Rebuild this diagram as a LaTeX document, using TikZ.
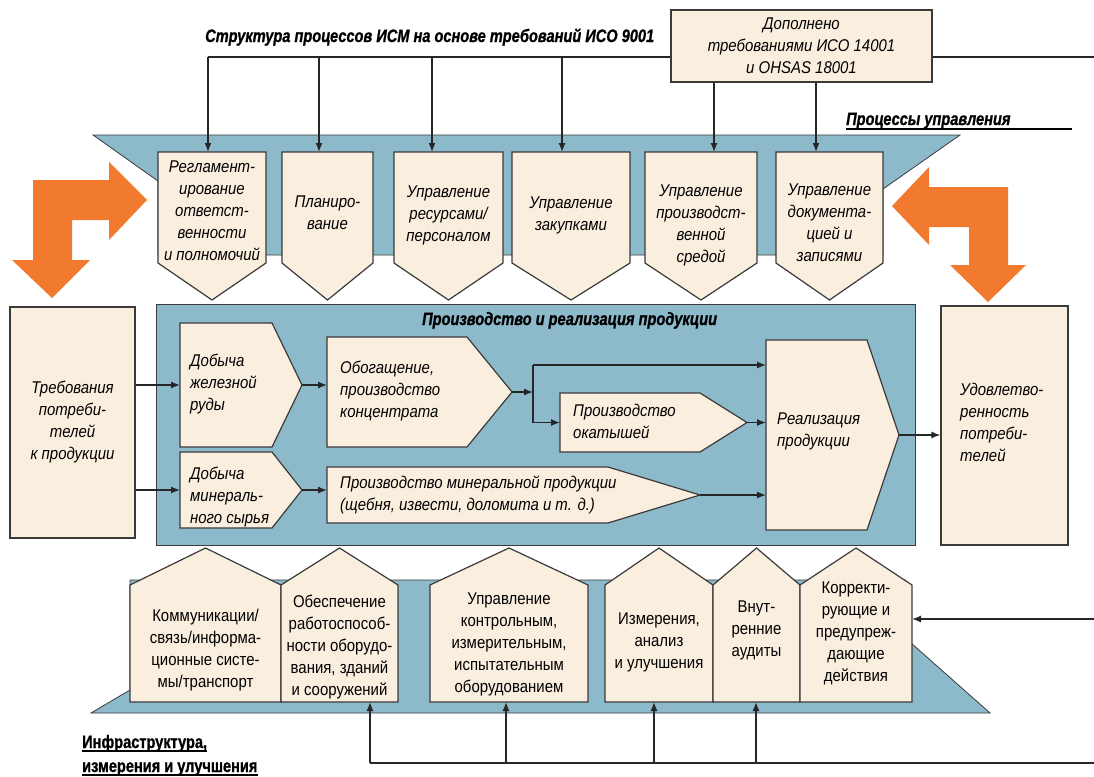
\documentclass[tikz,border=0pt]{standalone}
\usepackage{fontspec}
\setmainfont{Liberation Sans}[FakeStretch=0.88]
\newfontfamily\headfont{Liberation Sans}[FakeStretch=0.81, FakeBold=1]
\usetikzlibrary{arrows.meta}

\definecolor{bandblue}{HTML}{8DBACB}
\definecolor{boxcream}{HTML}{FAEEDF}
\definecolor{arroworange}{HTML}{F27A2E}
\definecolor{edgegray}{HTML}{3A3A3A}

\begin{document}
\begin{tikzpicture}[x=1pt, y=-1pt,
    band/.style={fill=bandblue, draw=edgegray, line width=0.8pt},
    procbox/.style={fill=boxcream, draw=edgegray, line width=1.2pt},
    bigarrow/.style={fill=arroworange},
    wire/.style={line width=1.3pt, black!85},
    arr/.style={wire, -{Latex[length=9pt,width=7pt]}},
    uline/.style={line width=1.6pt},
    txt/.style={font=\fontsize{17}{22}\selectfont, inner sep=0pt},
    itxt/.style={txt, font=\fontsize{17}{22}\selectfont\itshape, align=center},
    ltxt/.style={txt, font=\fontsize{17}{22}\selectfont\itshape, align=left, anchor=west},
    utxt/.style={txt, align=center},
    head/.style={font=\headfont\fontsize{18}{23}\selectfont\bfseries\itshape,
                 inner sep=0pt, anchor=base west},
    headup/.style={head, font=\headfont\fontsize{18}{23}\selectfont\bfseries},
]
\useasboundingbox (0,0) rectangle (1094,776);

% Management processes band
\draw[band] (93,135) -- (960,135) -- (883,189) -- (883,255)
    -- (158,255) -- (158,181) -- cycle;

\foreach \nm/\xa/\xb/\xin/\yt/\txt in {%
    reg/158/266/208/211/{Регламент-\\ирование\\ответст-\\венности\\и полномочий},%
    plan/282/373/319/213/{Планиро-\\вание},%
    res/394/503/432/215/{Управление\\ресурсами/\\персоналом},%
    pur/512/630/562/215/{Управление\\закупками},%
    env/645/757/714/225/{Управление\\производст-\\венной\\средой},%
    doc/776/883/816/223/{Управление\\документа-\\цией и\\записями}%
}{
  \draw[procbox] (\xa,152) -- (\xb,152) -- (\xb,263)
      -- ({(\xa+\xb)/2},300) -- (\xa,263) -- cycle;
  \node[itxt] (\nm) at ({(\xa+\xb)/2},\yt) {\txt};
  \coordinate (\nm-n) at (\xin,152);
}

% ISO requirements on top
\node[head] (title) at (205,42)
    {Структура процессов ИСМ на основе требований ИСО 9001};
\node[procbox, itxt, minimum width=261pt, minimum height=72pt] (dop)
    at (801.5,46) {Дополнено\\требованиями ИСО 14001\\и OHSAS 18001};

\coordinate (topL) at (208,57);
\coordinate (topR) at (1094,57);
\draw[wire] (topL) -- (topL -| dop.west);
\draw[wire] (topR -| dop.east) -- (topR);
\foreach \nm in {reg,plan,res,pur}
  \draw[arr] (\nm-n |- topL) -- (\nm-n);
\foreach \nm in {env,doc}
  \draw[arr] (\nm-n |- dop.south) -- (\nm-n);

\node[head] (mgmtlbl) at (846,125) {Процессы управления};
\coordinate (mgmtend) at (1072,129);
\draw[uline] (mgmtlbl.base west |- mgmtend) -- (mgmtend);

% Orange turn arrows
\fill[bigarrow] (33,180) -- (109,180) -- (109,162) -- (147,200) -- (109,240)
    -- (109,220) -- (72,220) -- (72,260) -- (90,260) -- (52,298)
    -- (12,260) -- (33,260) -- cycle;
\fill[bigarrow] (1008,187) -- (929,187) -- (929,167) -- (892,206) -- (929,245)
    -- (929,227) -- (969,227) -- (969,265) -- (950,265) -- (988,302)
    -- (1026,265) -- (1008,265) -- cycle;

% Production and realisation
\draw[band] (156,304) rectangle (915,545);
\node[head] (prodlbl) at (422,325) {Производство и реализация продукции};

\node[procbox, itxt, minimum width=125pt, minimum height=231pt] (req)
    at (72.5,422.5) {Требования\\потреби-\\телей\\к продукции};
\node[procbox, minimum width=127pt, minimum height=239pt] (sat)
    at (1004.5,425.5) {};
\node[ltxt] (sattxt) at (960,422) {Удовлетво-\\ренность\\потреби-\\телей};

\foreach \nm/\xa/\xs/\xt/\ya/\yb in {dob1/180/272/302/323/447,
    dob2/180/272/302/452/528, obog/327/467/512/337/447,
    okat/560/700/747/393/452, minp/327/608/700/467/523,
    real/766/867/899/340/530}{
  \draw[procbox] (\xa,\ya) -- (\xs,\ya) -- (\xt,{(\ya+\yb)/2})
      -- (\xs,\yb) -- (\xa,\yb) -- cycle;
  \coordinate (\nm-w) at (\xa,{(\ya+\yb)/2});
  \coordinate (\nm-e) at (\xt,{(\ya+\yb)/2});
}
\node[ltxt] (dob1txt) at (190,384) {Добыча\\железной\\руды};
\node[ltxt] (dob2txt) at (190,497) {Добыча\\минераль-\\ного сырья};
\node[ltxt] (obogtxt) at (340,391) {Обогащение,\\производство\\концентрата};
\node[ltxt] (okattxt) at (573,421) {Производство\\окатышей};
\node[ltxt] (minptxt) at (340,495)
    {Производство минеральной продукции\\(щебня, извести, доломита и т. д.)};
\node[ltxt] (realtxt) at (777,431) {Реализация\\продукции};

\draw[arr] (req.east |- dob1-w) -- (dob1-w);
\draw[arr] (req.east |- dob2-w) -- (dob2-w);
\draw[arr] (dob1-e) -- (dob1-e -| obog-w);
\draw[arr] (dob2-e) -- (dob2-e -| minp-w);
\coordinate (split) at (533,392);
\coordinate (splitup) at (533,365);
\draw[arr] (obog-e) -- (split);
\draw[wire] (splitup) -- (split |- okat-w);
\draw[arr] (splitup) -- (splitup -| real-w);
\draw[arr] (split |- okat-w) -- (okat-w);
\draw[arr] (okat-e) -- (okat-e -| real-w);
\draw[arr] (minp-e) -- (minp-e -| real-w);
\draw[arr] (real-e) -- (real-e -| sat.west);

% Infrastructure, measurement and improvement band
\draw[band] (91,713) -- (130,690) -- (130,580) -- (905,580) -- (911,643)
    -- (990,713) -- cycle;

\foreach \nm/\xa/\xb/\yt/\txt in {%
    comm/130/281/650/{Коммуникации/\\связь/информа-\\ционные систе-\\мы/транспорт},%
    maint/281/398/647/{Обеспечение\\работоспособ-\\ности оборудо-\\вания, зданий\\и сооружений},%
    meas/430/588/644/{Управление\\контрольным,\\измерительным,\\испытательным\\оборудованием},%
    anal/605/713/642/{Измерения,\\анализ\\и улучшения},%
    aud/713/800/630/{Внут-\\ренние\\аудиты},%
    corr/800/912/633/{Корректи-\\рующие и\\предупреж-\\дающие\\действия}%
}{
  \draw[procbox] (\xa,702) -- (\xa,585) -- ({(\xa+\xb)/2},548)
      -- (\xb,585) -- (\xb,702) -- cycle;
  \node[utxt] (\nm) at ({(\xa+\xb)/2},\yt) {\txt};
  \coordinate (\nm-s) at ({(\xa+\xb)/2},702);
  \coordinate (\nm-e) at (\xb,643);
}

% Feedback lines
\coordinate (fbA) at (370,763);
\coordinate (fbB) at (506,763);
\coordinate (fbC) at (654,763);
\coordinate (fbD) at (756,763);
\coordinate (fbR) at (1094,763);
\draw[wire] (fbA) -- (fbR);
\draw[arr] (fbA) -- (fbA |- maint-s);
\draw[arr] (fbB) -- (fbB |- meas-s);
\draw[arr] (fbC) -- (fbC |- anal-s);
\draw[arr] (fbD) -- (fbD |- aud-s);
\coordinate (corrR) at (1094,619);
\draw[arr] (corrR) -- (corrR -| corr-e);

\node[headup] (infra1) at (82,748) {Инфраструктура,};
\node[headup] (infra2) at (82,772) {измерения и улучшения};
\draw[uline] ([yshift=-3pt]infra1.base west) -- ([yshift=-3pt]infra1.base east);
\draw[uline] ([yshift=-3pt]infra2.base west) -- ([yshift=-3pt]infra2.base east);

\end{tikzpicture}
\end{document}
